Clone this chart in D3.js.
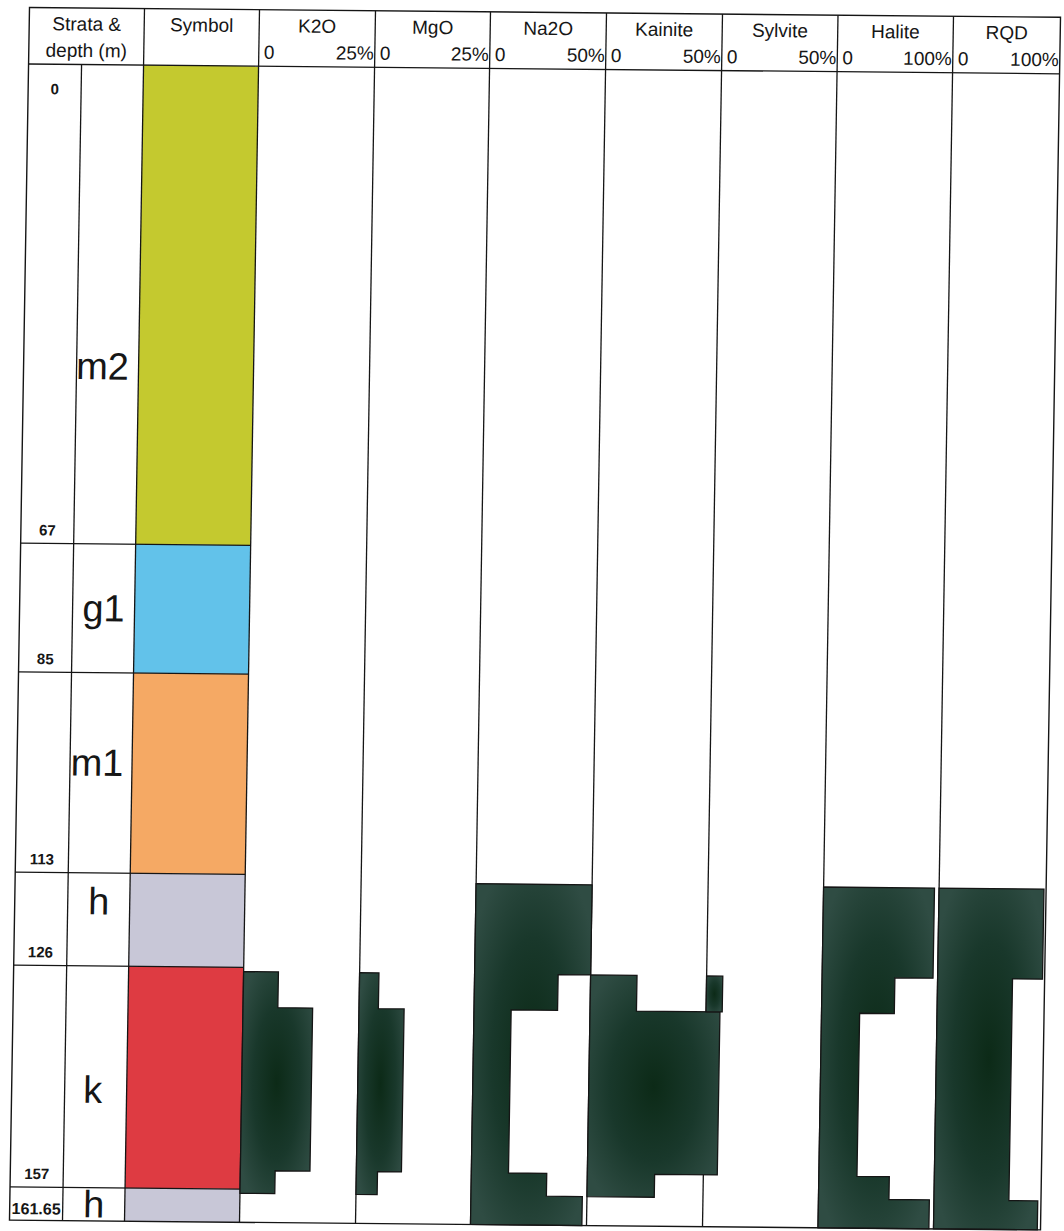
<!DOCTYPE html>
<html>
<head>
<meta charset="utf-8">
<script src="https://cdn.jsdelivr.net/npm/d3@7"></script>
<style>
  html, body { margin: 0; padding: 0; background: #fff; }
  svg { display: block; }
  text { font-family: "Liberation Sans", Arial, sans-serif; fill: #161616; }
</style>
</head>
<body>
<svg id="log" width="1064" height="1231"></svg>
<script>
// Borehole log: strata column, lithology symbols and seven assay / rock-quality tracks

// ---- strata ----
const strata        = ["m2", "g1", "m1", "h", "k", "h"];
const strataTop     = [0, 67, 85, 113, 126, 157];
const strataBottom  = [67, 85, 113, 126, 157, 161.65];
const strataColor   = ["#c4c92f", "#62c2ea", "#f5a964", "#c8c7d7", "#de3b42", "#c8c7d7"];
const depthLabels   = [0, 67, 85, 113, 126, 157, 161.65];

// ---- tracks ----
const tracks        = ["K2O", "MgO", "Na2O", "Kainite", "Sylvite", "Halite", "RQD"];
const trackMax      = [25, 25, 50, 50, 50, 100, 100];
const trackMaxLabel = ["25%", "25%", "50%", "50%", "50%", "100%", "100%"];

// sample intervals (m) and the value of each track in every interval (%)
const sampleTop     = [114, 126.6, 131.6, 154.4, 157.6];
const sampleBottom  = [126.6, 131.6, 154.4, 157.6, 161.65];
const k2o           = [0, 7.5, 15, 7.5, 0];
const mgo           = [0, 4.2, 9.8, 4.6, 0];
const na2o          = [50, 36, 16, 32.5, 48];
const kainite       = [0, 20, 56, 29, 0];
const sylvite       = [0, 7, 0, 0, 0];
const halite        = [96, 63, 33, 61, 96];
const rqd           = [98, 70, 70, 70, 97];
const trackValues   = [k2o, mgo, na2o, kainite, sylvite, halite, rqd];

// ---- layout ----
const W = 1031, H = 1212.6, headH = 56.5;
const colW = [115, 115, 116, 115, 116, 116, 115.5, 115.5, 107];
const edges = [0];
colW.forEach(w => edges.push(edges[edges.length - 1] + w));
const depthColW = 53;
const ink = "#151515";
// hand placement of the stratum codes inside their cells (px from cell centre)
const codeDx = [-5, 0, -4, 0, -3, 0];
const codeDy = [62, 0, -10, -18, 13, 0];

const svg = d3.select("#log");

const defs = svg.append("defs");
const grad = defs.append("radialGradient").attr("id", "ore")
  .attr("cx", "50%").attr("cy", "50%").attr("r", "62%");
grad.append("stop").attr("offset", "0%").attr("stop-color", "#0c2a17");
grad.append("stop").attr("offset", "55%").attr("stop-color", "#19382b");
grad.append("stop").attr("offset", "100%").attr("stop-color", "#2f4c43");

// the sheet sits slightly askew on the page
const g = svg.append("g").attr("transform", "matrix(1,0.0095,-0.0165,1,29.5,7.5)");

const y = d3.scaleLinear().domain([0, 161.65]).range([headH, H]);

// lithology symbol blocks
const symL = edges[1], symR = edges[2];
g.append("g").selectAll("rect").data(strata).join("rect")
  .attr("x", symL).attr("width", symR - symL)
  .attr("y", (d, i) => y(strataTop[i]))
  .attr("height", (d, i) => y(strataBottom[i]) - y(strataTop[i]))
  .attr("fill", (d, i) => strataColor[i]);

// grid: column rules, header rule, strata rules
const grid = g.append("g").attr("stroke", ink).attr("stroke-width", 1.3).attr("fill", "none");
edges.slice(1, -1).forEach(x => {
  grid.append("line").attr("x1", x).attr("x2", x).attr("y1", 0).attr("y2", H);
});
grid.append("line").attr("x1", depthColW).attr("x2", depthColW).attr("y1", headH).attr("y2", H);
grid.append("line").attr("x1", 0).attr("x2", W).attr("y1", headH).attr("y2", headH);
strataBottom.slice(0, -1).forEach(d => {
  grid.append("line").attr("x1", 0).attr("x2", symR).attr("y1", y(d)).attr("y2", y(d));
});

// tracks
tracks.forEach((name, ti) => {
  const left = edges[2 + ti], right = edges[3 + ti];
  const x = d3.scaleLinear().domain([0, trackMax[ti]]).range([left, right]);
  const vals = trackValues[ti];
  const pts = sampleTop.flatMap((t, i) => [
    { d: t, v: vals[i] },
    { d: sampleBottom[i], v: vals[i] }
  ]);
  const area = d3.area()
    .defined(p => p.v > 0)
    .y(p => y(p.d))
    .x0(x(0))
    .x1(p => x(p.v));
  g.append("path")
    .attr("d", area(pts))
    .attr("fill", "url(#ore)")
    .attr("stroke", ink)
    .attr("stroke-width", 1.3)
    .attr("stroke-linejoin", "miter");

  // header: name and scale ends
  const cx = (left + right) / 2;
  g.append("text").attr("x", cx).attr("y", 22.5).attr("text-anchor", "middle")
    .attr("font-size", 19).text(name);
  g.append("text").attr("x", left + 5).attr("y", 49).attr("font-size", 19).text("0");
  g.append("text").attr("x", right - 1).attr("y", 49).attr("text-anchor", "end")
    .attr("font-size", 19).text(trackMaxLabel[ti]);
});

// left header cells
g.append("text").attr("x", edges[1] / 2).attr("y", 22.5).attr("text-anchor", "middle")
  .attr("font-size", 19).text("Strata &");
g.append("text").attr("x", edges[1] / 2).attr("y", 49).attr("text-anchor", "middle")
  .attr("font-size", 19).text("depth (m)");
g.append("text").attr("x", (symL + symR) / 2).attr("y", 22.5).attr("text-anchor", "middle")
  .attr("font-size", 19).text("Symbol");

// depth labels
g.append("g").selectAll("text").data(depthLabels).join("text")
  .attr("x", depthColW / 2)
  .attr("y", (d, i) => i === 0 ? y(d) + 30 : y(d) - (i === depthLabels.length - 1 ? 6 : 8))
  .attr("text-anchor", "middle")
  .attr("font-size", (d, i) => i === depthLabels.length - 1 ? 16 : 15)
  .attr("font-weight", "bold")
  .text(d => d);

// strata labels
g.append("g").selectAll("text").data(strata).join("text")
  .attr("x", (d, i) => (depthColW + edges[1]) / 2 + codeDx[i])
  .attr("y", (d, i) => {
    const mid = (y(strataTop[i]) + y(strataBottom[i])) / 2;
    return Math.min(mid + 13, y(strataBottom[i]) - 3) + codeDy[i];
  })
  .attr("text-anchor", "middle")
  .attr("font-size", 38)
  .text(d => d);

// outer frame
g.append("rect").attr("x", 0).attr("y", 0).attr("width", W).attr("height", H)
  .attr("fill", "none").attr("stroke", ink).attr("stroke-width", 1.4);
</script>
</body>
</html>
